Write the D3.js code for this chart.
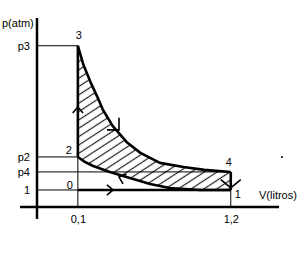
<!DOCTYPE html>
<html>
<head>
<meta charset="utf-8">
<script src="https://cdn.jsdelivr.net/npm/d3@7"></script>
<style>
  body { margin: 0; background: #fff; }
  svg { display: block; font-family: "Liberation Sans", Arial, sans-serif; }
</style>
</head>
<body>
<div id="chart"></div>
<script>
// cycle state points (schematic values)
const stateNames = ["0", "1", "2", "3", "4"];
const stateV = [0.1, 1.2, 0.1, 0.1, 1.2];
const stateP = [1, 1, 2.94, 9.47, 2.06];

// axis tick labels
const pTickValues = [9.47, 2.94, 2.06, 1];
const pTickLabels = ["p3", "p2", "p4", "1"];
const vTickValues = [0.1, 1.2];
const vTickLabels = ["0,1", "1,2"];

// expansion 3 -> 4
const expV = [0.1, 0.14, 0.19, 0.24, 0.28, 0.35, 0.45, 0.55, 0.62, 0.69, 0.86, 1.01, 1.2];
const expP = [9.47, 8.35, 7.35, 6.47, 5.71, 4.76, 3.82, 3.18, 2.88, 2.59, 2.35, 2.18, 2.06];

// compression 1 -> 2 (listed from 2 to 1)
const compV = [0.1, 0.15, 0.21, 0.33, 0.45, 0.62, 0.76, 0.98, 1.2];
const compP = [2.94, 2.65, 2.41, 2.06, 1.76, 1.35, 1.12, 1.0, 1.0];

// direction arrows on the cycle
const arrowV = [0.1, 0.396, 0.396, 0.353, 1.2];
const arrowP = [5.88, 4.53, 1.76, 1.0, 1.12];
const arrowDir = [-90, 45, 200, 0, 90];

const width = 308, height = 255;

const svg = d3.select("#chart")
  .append("svg")
  .attr("width", width)
  .attr("height", height);

const x = d3.scaleLinear().domain([-0.194, 1.547]).range([37, 279]);
const y = d3.scaleLinear().domain([0, 11.1]).range([207, 18]);

// hatch pattern
svg.append("defs").append("pattern")
  .attr("id", "hatch")
  .attr("patternUnits", "userSpaceOnUse")
  .attr("width", 8).attr("height", 7)
  .attr("patternTransform", "rotate(-33)")
  .append("line")
  .attr("x1", 0).attr("y1", 3.5).attr("x2", 8).attr("y2", 3.5)
  .attr("stroke", "#222").attr("stroke-width", 1.2);

const line = d3.line().x(d => x(d[0])).y(d => y(d[1]));
const expPts = expV.map((v, i) => [v, expP[i]]);
const compPts = compV.map((v, i) => [v, compP[i]]);

// hatched cycle area: 3 -> 4 -> 1 -> 2 -> 3
const area = expPts.concat(compPts.slice().reverse());
svg.append("path")
  .attr("d", line(area) + "Z")
  .attr("fill", "url(#hatch)");

// thin guide lines
const thin = svg.append("g").attr("stroke", "#000").attr("stroke-width", 1);
const xLeft = x.range()[0];
thin.append("line") // p3
  .attr("x1", xLeft).attr("x2", x(stateV[3])).attr("y1", y(stateP[3])).attr("y2", y(stateP[3]));
thin.append("line") // p2
  .attr("x1", xLeft).attr("x2", x(stateV[2])).attr("y1", y(stateP[2])).attr("y2", y(stateP[2]));
thin.append("line") // p4
  .attr("x1", xLeft).attr("x2", x(stateV[4])).attr("y1", y(stateP[4])).attr("y2", y(stateP[4]));
thin.append("line") // 1 atm
  .attr("x1", xLeft).attr("x2", x(stateV[0])).attr("y1", y(stateP[0])).attr("y2", y(stateP[0]));
thin.append("line") // V = 0,1
  .attr("x1", x(stateV[2])).attr("x2", x(stateV[2])).attr("y1", y(stateP[2])).attr("y2", y(0));
thin.append("line") // V = 1,2
  .attr("x1", x(stateV[1])).attr("x2", x(stateV[1])).attr("y1", y(stateP[1])).attr("y2", y(0));

// cycle outline
const thick = svg.append("g").attr("fill", "none").attr("stroke", "#000")
  .attr("stroke-width", 2.6).attr("stroke-linejoin", "round");
thick.append("path").attr("d", line(expPts));
thick.append("path").attr("d", line(compPts));
thick.append("path").attr("d", line([[stateV[2], stateP[2]], [stateV[3], stateP[3]]]));
thick.append("path").attr("d", line([[stateV[4], stateP[4]], [stateV[1], stateP[1]]]));
thick.append("path").attr("d", line([[stateV[0], stateP[0]], [stateV[1], stateP[1]]]));

// arrows (chevrons)
svg.append("g").attr("fill", "none").attr("stroke", "#000").attr("stroke-width", 1.6)
  .selectAll("path")
  .data(arrowV.map((v, i) => ({ v, p: arrowP[i], dir: arrowDir[i], i })))
  .join("path")
  .attr("d", d => {
    const L = d.i === 1 ? 12 : d.i === 4 ? 13 : 8;
    const a = d.i === 1 ? 45 : d.i === 4 ? 50 : 40;
    const tx = x(d.v), ty = y(d.p);
    const r = Math.PI / 180;
    const p1 = [tx - L * Math.cos((d.dir + a) * r), ty - L * Math.sin((d.dir + a) * r)];
    const p2 = [tx - L * Math.cos((d.dir - a) * r), ty - L * Math.sin((d.dir - a) * r)];
    return `M${p1[0]},${p1[1]}L${tx},${ty}L${p2[0]},${p2[1]}`;
  });

// axes
const axisY = svg.append("g").attr("transform", `translate(${xLeft},0)`)
  .call(d3.axisLeft(y).tickValues(pTickValues)
    .tickFormat((d, i) => pTickLabels[i]).tickSize(0).tickPadding(7));
axisY.select(".domain").remove();
const axisX = svg.append("g").attr("transform", `translate(0,${y(0)})`)
  .call(d3.axisBottom(x).tickValues(vTickValues)
    .tickFormat((d, i) => vTickLabels[i]).tickSize(0).tickPadding(8));
axisX.select(".domain").remove();
svg.selectAll(".tick text").attr("font-size", 11)
  .attr("font-family", "'Liberation Sans', Arial, sans-serif").attr("fill", "#000");

svg.append("line")
  .attr("x1", xLeft).attr("x2", xLeft).attr("y1", y(11.1)).attr("y2", y(-0.7))
  .attr("stroke", "#000").attr("stroke-width", 2.5);
svg.append("line")
  .attr("x1", x(-0.316)).attr("x2", x(1.547)).attr("y1", y(0)).attr("y2", y(0))
  .attr("stroke", "#000").attr("stroke-width", 2.5);

svg.append("text").attr("x", 2).attr("y", 27).attr("font-size", 11).text("p(atm)");
svg.append("text").attr("x", 259).attr("y", 199).attr("font-size", 11).text("V(litros)");

// state labels
const labelDx = [-5, 7, -9, 1, -2];
const labelDy = [-1, 8, -3, -7, -6];
const labelAnchor = ["end", "middle", "middle", "middle", "middle"];
svg.append("g").attr("font-size", 11)
  .selectAll("text")
  .data(stateNames)
  .join("text")
  .attr("x", (d, i) => x(stateV[i]) + labelDx[i])
  .attr("y", (d, i) => y(stateP[i]) + labelDy[i])
  .attr("text-anchor", (d, i) => labelAnchor[i])
  .text(d => d);

// small stray dot in the scan
svg.append("circle").attr("cx", x(1.568)).attr("cy", y(2.94)).attr("r", 1).attr("fill", "#000");
</script>
</body>
</html>
